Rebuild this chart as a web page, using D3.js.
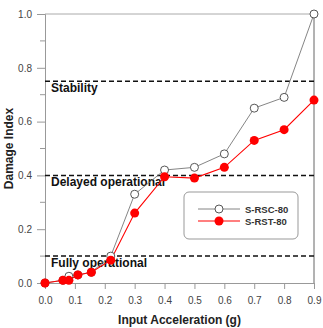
<!DOCTYPE html>
<html>
<head>
<meta charset="utf-8">
<script src="https://cdn.jsdelivr.net/npm/d3@7"></script>
<style>
  body { margin: 0; background: #fff; }
  text { font-family: "Liberation Sans", Arial, sans-serif; }
</style>
</head>
<body>
<div id="wrapper"></div>
<script>
// input acceleration (g)
const accel = [0, 0.06, 0.08, 0.11, 0.155, 0.22, 0.3, 0.4, 0.5, 0.6, 0.7, 0.8, 0.9];
// damage index per specimen
const rscValues = [0, 0.01, 0.025, 0.03, 0.04, 0.1, 0.33, 0.42, 0.43, 0.48, 0.65, 0.69, 1.0];
const rstValues = [0, 0.01, 0.01, 0.03, 0.04, 0.085, 0.26, 0.395, 0.39, 0.43, 0.53, 0.57, 0.68];
const seriesNames = ["S-RSC-80", "S-RST-80"];
// performance level thresholds
const levelNames = ["Stability", "Delayed operational", "Fully operational"];
const levelValues = [0.75, 0.4, 0.1];
const xTicks = [0, 0.1, 0.2, 0.3, 0.4, 0.5, 0.6, 0.7, 0.8, 0.9];
const yTicks = [0, 0.2, 0.4, 0.6, 0.8, 1.0];
const yMinorTicks = [0.1, 0.3, 0.5, 0.7, 0.9];

const width = 323;
const height = 328;
const margin = { top: 14, right: 9, bottom: 45, left: 45 };

const svg = d3
  .select("#wrapper")
  .append("svg")
  .attr("width", width)
  .attr("height", height);

const x = d3
  .scaleLinear()
  .domain([0, 0.9])
  .range([margin.left, width - margin.right]);

const y = d3
  .scaleLinear()
  .domain([0, 1])
  .range([height - margin.bottom, margin.top]);

// frame: top and right
svg
  .append("line")
  .attr("x1", x(0))
  .attr("x2", x(0.9))
  .attr("y1", y(1))
  .attr("y2", y(1))
  .attr("stroke", "#aaa")
  .attr("stroke-width", 1);

svg
  .append("line")
  .attr("x1", x(0.9))
  .attr("x2", x(0.9))
  .attr("y1", y(1))
  .attr("y2", y(0))
  .attr("stroke", "#666")
  .attr("stroke-width", 1);

// x axis
const xAxis = svg
  .append("g")
  .attr("transform", `translate(0, ${y(0)})`)
  .call(
    d3.axisBottom(x)
      .tickValues(xTicks)
      .tickFormat(d3.format(".1f"))
      .tickSize(6)
      .tickPadding(8)
  );

// y axis
const yAxis = svg
  .append("g")
  .attr("transform", `translate(${x(0)}, 0)`)
  .call(
    d3.axisLeft(y)
      .tickValues(yTicks)
      .tickFormat(d3.format(".1f"))
      .tickSize(8)
      .tickPadding(5)
  );

svg
  .append("g")
  .attr("transform", `translate(${x(0)}, 0)`)
  .selectAll("line")
  .data(yMinorTicks)
  .join("line")
  .attr("x1", -5)
  .attr("x2", 0)
  .attr("y1", d => y(d))
  .attr("y2", d => y(d))
  .attr("stroke", "#999");

[xAxis, yAxis].forEach(ax => {
  ax.select(".domain").attr("stroke", "#999");
  ax.selectAll(".tick line").attr("stroke", "#999");
  ax.selectAll(".tick text")
    .attr("fill", "#444")
    .attr("font-size", 10)
    .style("font-family", "'Liberation Sans', Arial, sans-serif");
});

// threshold lines
svg
  .append("g")
  .selectAll("line")
  .data(levelValues)
  .join("line")
  .attr("x1", x(0))
  .attr("x2", x(0.9))
  .attr("y1", d => y(d))
  .attr("y2", d => y(d))
  .attr("stroke", "#111")
  .attr("stroke-width", 1.5)
  .attr("stroke-dasharray", "5,3");

svg
  .append("g")
  .selectAll("text")
  .data(levelValues)
  .join("text")
  .text((d, i) => levelNames[i])
  .attr("x", x(0) + 6)
  .attr("y", d => y(d) + 11)
  .attr("font-size", 12)
  .attr("font-weight", "bold")
  .attr("fill", "#111");

// series
const line = d3
  .line()
  .x((d, i) => x(accel[i]))
  .y(d => y(d));

svg
  .append("path")
  .attr("d", line(rscValues))
  .attr("fill", "none")
  .attr("stroke", "#777")
  .attr("stroke-width", 0.9);

svg
  .append("path")
  .attr("d", line(rstValues))
  .attr("fill", "none")
  .attr("stroke", "#ff0000")
  .attr("stroke-width", 1.1);

svg
  .append("g")
  .selectAll("circle")
  .data(rscValues)
  .join("circle")
  .attr("cx", (d, i) => x(accel[i]))
  .attr("cy", d => y(d))
  .attr("r", 4)
  .attr("fill", "#fff")
  .attr("stroke", "#444")
  .attr("stroke-width", 0.9);

svg
  .append("g")
  .selectAll("circle")
  .data(rstValues)
  .join("circle")
  .attr("cx", (d, i) => x(accel[i]))
  .attr("cy", d => y(d))
  .attr("r", 4.5)
  .attr("fill", "#ff0000");

// legend
const legend = svg.append("g").attr("transform", "translate(184, 192)");

legend
  .append("rect")
  .attr("width", 114)
  .attr("height", 47)
  .attr("rx", 5)
  .attr("fill", "#fff")
  .attr("stroke", "#999");

const legendRows = legend
  .selectAll("g")
  .data(seriesNames)
  .join("g")
  .attr("transform", (d, i) => `translate(0, ${17 + i * 12})`);

legendRows
  .append("line")
  .attr("x1", 14)
  .attr("x2", 56)
  .attr("stroke", (d, i) => (i === 0 ? "#777" : "#ff0000"))
  .attr("stroke-width", (d, i) => (i === 0 ? 0.9 : 1.1));

legendRows
  .append("circle")
  .attr("cx", 35)
  .attr("r", (d, i) => (i === 0 ? 4 : 4.5))
  .attr("fill", (d, i) => (i === 0 ? "#fff" : "#ff0000"))
  .attr("stroke", (d, i) => (i === 0 ? "#444" : "none"))
  .attr("stroke-width", 0.9);

legendRows
  .append("text")
  .text(d => d)
  .attr("x", 61)
  .attr("y", 3.5)
  .attr("font-size", 9.5)
  .attr("font-weight", "bold")
  .attr("fill", "#333");

// axis titles
svg
  .append("text")
  .text("Input Acceleration (g)")
  .attr("x", (x(0) + x(0.9)) / 2)
  .attr("y", 324)
  .attr("text-anchor", "middle")
  .attr("font-size", 12)
  .attr("font-weight", "bold")
  .attr("fill", "#222");

svg
  .append("text")
  .text("Damage Index")
  .attr("transform", `translate(13, ${(y(0) + y(1)) / 2}) rotate(-90)`)
  .attr("text-anchor", "middle")
  .attr("font-size", 12)
  .attr("font-weight", "bold")
  .attr("fill", "#222");
</script>
</body>
</html>
